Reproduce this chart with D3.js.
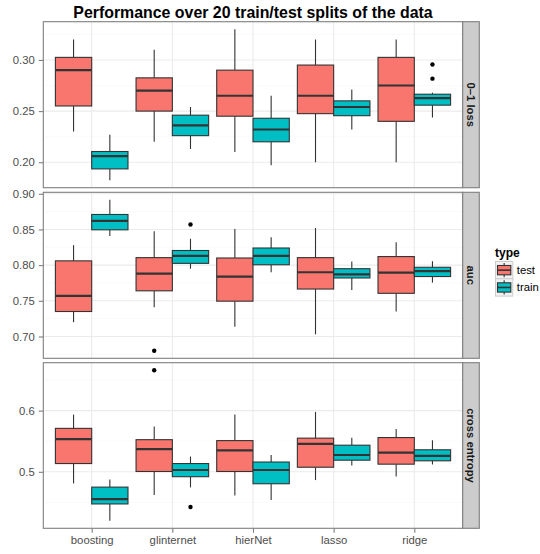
<!DOCTYPE html>
<html><head><meta charset="utf-8">
<script src="https://cdn.jsdelivr.net/npm/d3@7"></script>
<style>body{margin:0;background:#fff}svg{display:block}text{font-family:"Liberation Sans",Arial,sans-serif}</style>
</head><body><svg id="c" width="540" height="554"></svg>
<script>
const categories = ["boosting","glinternet","hierNet","lasso","ridge"];
const types = ["test","train"];
const metrics = ["0\u20131 loss","auc","cross entropy"];
const metricTicks = [[0.20,0.25,0.30],[0.70,0.75,0.80,0.85,0.90],[0.5,0.6]];
const tickFormats = [".2f",".2f",".1f"];
// [lowWhisker, Q1, median, Q3, highWhisker] per category, order as categories
const lossTest  = [[0.230,0.255,0.290,0.3025,0.320],[0.220,0.250,0.270,0.2825,0.310],[0.210,0.245,0.265,0.290,0.330],[0.200,0.2475,0.265,0.295,0.320],[0.200,0.240,0.275,0.3025,0.320]];
const lossTrain = [[0.1825,0.1935,0.206,0.2105,0.227],[0.213,0.226,0.236,0.246,0.254],[0.197,0.220,0.232,0.243,0.265],[0.232,0.2455,0.254,0.260,0.271],[0.2437,0.2558,0.2626,0.2665,0.268]];
const aucTest   = [[0.720,0.735,0.757,0.806,0.828],[0.741,0.764,0.788,0.8105,0.8475],[0.7135,0.7495,0.784,0.810,0.8505],[0.703,0.7665,0.790,0.8105,0.852],[0.735,0.7605,0.7895,0.812,0.832]];
const aucTrain  = [[0.841,0.8495,0.862,0.871,0.8915],[0.795,0.8025,0.813,0.8205,0.837],[0.790,0.8005,0.813,0.824,0.839],[0.765,0.782,0.787,0.795,0.805],[0.7755,0.784,0.7915,0.797,0.8055]];
const ceTest    = [[0.481,0.5135,0.5535,0.571,0.5935],[0.462,0.5005,0.537,0.5525,0.574],[0.4615,0.5005,0.535,0.551,0.5935],[0.4865,0.5075,0.5455,0.555,0.598],[0.4925,0.5125,0.5315,0.556,0.570]];
const ceTrain   = [[0.420,0.4475,0.4555,0.475,0.4875],[0.4745,0.492,0.503,0.5135,0.525],[0.454,0.4805,0.503,0.516,0.5275],[0.5105,0.519,0.5275,0.5435,0.5555],[0.512,0.518,0.526,0.536,0.5515]];
// outliers: [metricIndex, category, type, value]
const outliers = [[0,"ridge","train",0.2955],[0,"ridge","train",0.2817],[1,"glinternet","test",0.680],[1,"glinternet","train",0.857],[2,"glinternet","test",0.666],[2,"glinternet","train",0.4425]];
const colors = {test:"#F8766D", train:"#00BFC4"};
const title = "Performance over 20 train/test splits of the data";

const stats = [[lossTest,lossTrain],[aucTest,aucTrain],[ceTest,ceTrain]];

const svg = d3.select("#c");
const L = 43.3, R = 462.7;
const panelY = [[21.7,187.7],[192.3,358.3],[362.7,528.3]];
const stripW = 16.6;

const x = d3.scalePoint().domain(categories).range([L,R]).padding(0.6);
const step = x.step();
const xt = d3.scaleBand().domain(types).range([-0.45*step,0.45*step]);

svg.append("text").attr("x",(L+R)/2).attr("y",17.5).attr("text-anchor","middle")
  .attr("font-size",15.9).attr("font-weight","bold").attr("fill","#000").text(title);

metrics.forEach((m,mi)=>{
  const [t,b] = panelY[mi];
  let vals = [];
  stats[mi].forEach(arr=>arr.forEach(s=>vals.push(s[0],s[4])));
  outliers.filter(o=>o[0]===mi).forEach(o=>vals.push(o[3]));
  const ext = d3.extent(vals), pad = (ext[1]-ext[0])*0.05;
  const y = d3.scaleLinear().domain([ext[0]-pad, ext[1]+pad]).range([b,t]);
  const g = svg.append("g");
  g.append("rect").attr("x",L).attr("y",t).attr("width",R-L).attr("height",b-t).attr("fill","#fff");
  // minor grid
  const major = metricTicks[mi];
  const d = major[1]-major[0];
  const minor = [];
  for (let v = major[0]-d/2; v <= y.domain()[1]; v += d) if (v >= y.domain()[0]) minor.push(v);
  g.selectAll(".mn").data(minor).join("line").attr("x1",L).attr("x2",R)
    .attr("y1",v=>y(v)).attr("y2",v=>y(v)).attr("stroke","#FAFAFA").attr("stroke-width",1);
  g.selectAll(".mj").data(major).join("line").attr("x1",L).attr("x2",R)
    .attr("y1",v=>y(v)).attr("y2",v=>y(v)).attr("stroke","#EBEBEB").attr("stroke-width",1.1);
  g.selectAll(".vx").data(categories).join("line").attr("x1",c=>x(c)).attr("x2",c=>x(c))
    .attr("y1",t).attr("y2",b).attr("stroke","#EBEBEB").attr("stroke-width",1.1);
  // y axis
  const ya = d3.axisLeft(y).tickValues(major).tickFormat(d3.format(tickFormats[mi])).tickSize(4.5).tickPadding(4);
  const ag = svg.append("g").attr("transform",`translate(${L},0)`).call(ya);
  ag.select(".domain").remove();
  ag.selectAll(".tick line").attr("stroke","#7F7F7F").attr("stroke-width",1.1);
  ag.selectAll(".tick text").attr("fill","#4D4D4D").attr("font-size",11.3).attr("font-family","Liberation Sans, Arial, sans-serif");
  // boxes
  types.forEach((tp,ti)=>{
    stats[mi][ti].forEach((s,ci)=>{
      const c = categories[ci];
      const x0 = x(c)+xt(tp), w = xt.bandwidth(), xc = x0+w/2;
      g.append("line").attr("x1",xc).attr("x2",xc).attr("y1",y(s[4])).attr("y2",y(s[3])).attr("stroke","#333").attr("stroke-width",1.1);
      g.append("line").attr("x1",xc).attr("x2",xc).attr("y1",y(s[1])).attr("y2",y(s[0])).attr("stroke","#333").attr("stroke-width",1.1);
      g.append("rect").attr("x",x0).attr("y",y(s[3])).attr("width",w).attr("height",y(s[1])-y(s[3]))
        .attr("fill",colors[tp]).attr("stroke","#333").attr("stroke-width",1.1);
      g.append("line").attr("x1",x0).attr("x2",x0+w).attr("y1",y(s[2])).attr("y2",y(s[2])).attr("stroke","#333").attr("stroke-width",2.2);
    });
  });
  g.selectAll(".out").data(outliers.filter(o=>o[0]===mi)).join("circle")
    .attr("cx",o=>x(o[1])+xt(o[2])+xt.bandwidth()/2).attr("cy",o=>y(o[3])).attr("r",2.2).attr("fill","#000");
  // border
  g.append("rect").attr("x",L).attr("y",t).attr("width",R-L).attr("height",b-t).attr("fill","none").attr("stroke","#7F7F7F").attr("stroke-width",1.1);
  // strip
  svg.append("rect").attr("x",R).attr("y",t).attr("width",stripW).attr("height",b-t).attr("fill","#CCCCCC").attr("stroke","#7F7F7F").attr("stroke-width",1.1);
  svg.append("text").attr("transform",`translate(${R+stripW/2},${(t+b)/2}) rotate(90)`)
    .attr("text-anchor","middle").attr("dy","0.35em").attr("font-size",11.3).attr("font-weight","bold").attr("fill","#1a1a1a").text(m);
});

// x axis
const xb = panelY[2][1];
const xa = d3.axisBottom(x).tickSize(4.5).tickPadding(3);
const xg = svg.append("g").attr("transform",`translate(0,${xb})`).call(xa);
xg.select(".domain").remove();
xg.selectAll(".tick line").attr("stroke","#7F7F7F").attr("stroke-width",1.1);
xg.selectAll(".tick text").attr("fill","#4D4D4D").attr("font-size",11.3).attr("font-family","Liberation Sans, Arial, sans-serif");

// legend
const lg = svg.append("g").attr("transform","translate(495,0)");
lg.append("text").attr("x",0).attr("y",257).attr("font-size",12).attr("font-weight","bold").attr("fill","#000").text("type");
const ks = 17.3, ky0 = 261.5;
types.forEach((tp,i)=>{
  const yy = ky0 + i*ks;
  lg.append("rect").attr("x",0.5).attr("y",yy).attr("width",ks).attr("height",ks).attr("fill","#F2F2F2").attr("stroke","#CCCCCC").attr("stroke-width",1);
  const cx = 0.5+ks/2;
  lg.append("line").attr("x1",cx).attr("x2",cx).attr("y1",yy+1.5).attr("y2",yy+ks-1.5).attr("stroke","#333").attr("stroke-width",1.1);
  lg.append("rect").attr("x",2.5).attr("y",yy+4).attr("width",ks-4).attr("height",ks-8).attr("fill",colors[tp]).attr("stroke","#333").attr("stroke-width",1.1);
  lg.append("line").attr("x1",2.5).attr("x2",ks-1.5).attr("y1",yy+ks/2).attr("y2",yy+ks/2).attr("stroke","#333").attr("stroke-width",1.6);
  lg.append("text").attr("x",ks+4.5).attr("y",yy+ks/2).attr("dy","0.35em").attr("font-size",11.3).attr("fill","#000").text(tp);
});
</script></body></html>
